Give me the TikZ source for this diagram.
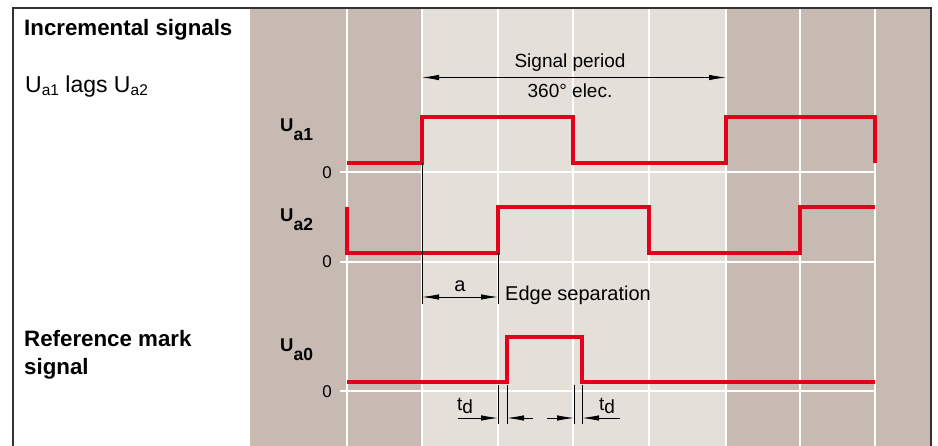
\documentclass[tikz,border=0pt]{standalone}
\usepackage{fontspec}
\setmainfont{Liberation Sans}
\usetikzlibrary{arrows.meta}
\definecolor{dk}{RGB}{198,186,178}
\definecolor{lt}{RGB}{229,223,218}
\definecolor{sig}{RGB}{226,0,26}
\definecolor{frame}{RGB}{50,50,50}
\newcommand{\fs}[1]{\fontsize{#1}{#1}\selectfont}
\newcommand{\Ulab}[1]{{\fs{18.5pt}\bfseries U\raisebox{-8.5pt}{\fs{17.5pt}#1}}}
\newcommand{\Utxt}[1]{U\raisebox{-2.5pt}{\fs{15.5pt}#1}}
\begin{document}
\begin{tikzpicture}[x=1pt,y=-1pt,
  sigline/.style={draw=sig,line width=4pt,line join=miter,line cap=butt},
  gridv/.style={draw=white,line width=1.3pt},
  gridh/.style={draw=white,line width=1.6pt},
  dim/.style={draw=black,line width=0.8pt},
  tip/.style={dim,-{Latex[length=17pt,width=5.5pt]}},
  twotip/.style={dim,{Latex[length=17pt,width=5.5pt]}-{Latex[length=17pt,width=5.5pt]}},
  lbl/.style={inner sep=0pt,anchor=base west},
  zero/.style={inner sep=0pt,anchor=base east,font=\fs{17pt}},
  heading/.style={lbl,font=\fs{22.3pt}\bfseries},
  note/.style={inner sep=0pt,anchor=base,font=\fs{19pt}}]
\useasboundingbox (0,0) rectangle (938,446);
\fill[white] (0,0) rectangle (938,446);
% panels
\fill[dk] (250,8) rectangle (931,446);
\fill[lt] (422,8) rectangle (726,446);
% grid
\foreach \x in {347,422,498,573,649,726,800,875}
  \draw[gridv] (\x,8) -- (\x,446);
\foreach \y in {172,262,391}
  \draw[gridh] (340,\y) -- (875,\y);
% frame
\draw[frame,line width=1.5pt] (13,446) -- (13,8) -- (931,8) -- (931,446);
% left texts
\node[heading] (hinc) at (24,35.5) {Incremental signals};
\node[lbl,font=\fs{23pt}] (lags) at (25,93) {\Utxt{a1} lags \Utxt{a2}};
\node[heading] (href) at (24,347) {Reference mark};
\node[heading] (hsig) at (24,375) {signal};
% signal labels
\node[lbl] (lua1) at (280,132) {\Ulab{a1}};
\node[lbl] (lua2) at (280,222) {\Ulab{a2}};
\node[lbl] (lua0) at (280,352) {\Ulab{a0}};
\node[zero] (z1) at (332,179) {0};
\node[zero] (z2) at (332,268) {0};
\node[zero] (z0) at (332,398) {0};
% signals
\draw[sigline] (347,163) -- (422,163) -- (422,117) -- (573,117) -- (573,163)
  -- (726,163) -- (726,117) -- (875,117) -- (875,163);
\draw[sigline] (347,207) -- (347,253) -- (498,253) -- (498,207) -- (649,207)
  -- (649,253) -- (800,253) -- (800,207) -- (875,207);
\draw[sigline] (347,382) -- (507,382) -- (507,337) -- (582,337) -- (582,382)
  -- (875,382);
% signal period
\coordinate (spL) at (422,77.5);
\coordinate (spR) at (726,77.5);
\draw[twotip] (spL) -- (spR);
\node[note] (sp1) at (570,68) {Signal period};
\node[note] (sp2) at (570,98) {360° elec.};
% edge separation
\coordinate (e1t) at (422,163);
\coordinate (e1b) at (422,304);
\coordinate (e2t) at (498,253);
\coordinate (e2b) at (498,304);
\draw[dim] (e1t) -- (e1b);
\draw[dim] (e2t) -- (e2b);
\coordinate (aL) at (422,297);
\coordinate (aR) at (498,297);
\draw[twotip] (aL) -- (aR);
\node[note,font=\fs{20pt}] (alab) at (460,292) {a};
\node[lbl,font=\fs{20pt}] (edge) at (505,301) {Edge separation};
% td markers
\foreach \x [count=\i] in {498,507,574,582}{
  \coordinate (tt\i) at (\x,385);
  \coordinate (tb\i) at (\x,424);
  \draw[dim] (tt\i) -- (tb\i);
}
\coordinate (ta1) at (458,418);
\coordinate (ta2) at (533,418);
\coordinate (ta3) at (547,418);
\coordinate (ta4) at (620,418);
\draw[tip] (ta1) -- (tb1 |- ta1);
\draw[tip] (ta2) -- (tb2 |- ta2);
\draw[tip] (ta3) -- (tb3 |- ta3);
\draw[tip] (ta4) -- (tb4 |- ta4);
\node[lbl,font=\fs{19pt}] (td1) at (457,411) {t\raisebox{-2pt}{d}};
\node[lbl,font=\fs{19pt}] (td2) at (599,411) {t\raisebox{-2pt}{d}};
\end{tikzpicture}
\end{document}
